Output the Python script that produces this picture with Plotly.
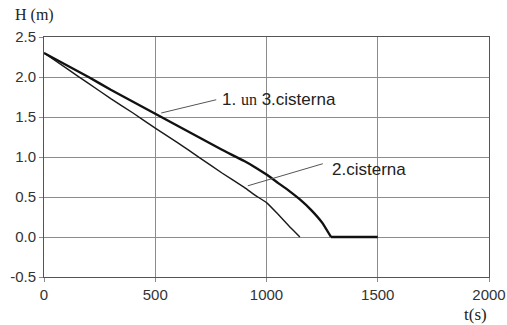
import plotly.graph_objects as go

# Series 1 and 3 (thick line)
t_13 = [0, 100, 200, 300, 400, 500, 600, 700, 800, 900, 950, 1000, 1050, 1100, 1150, 1200, 1250, 1290, 1500]
h_13 = [2.30, 2.15, 2.00, 1.84, 1.69, 1.54, 1.39, 1.24, 1.09, 0.95, 0.87, 0.78, 0.68, 0.58, 0.47, 0.34, 0.18, 0.0, 0.0]

# Series 2 (thin line)
t_2 = [0, 100, 200, 300, 400, 500, 600, 700, 800, 900, 950, 1000, 1050, 1100, 1150]
h_2 = [2.30, 2.11, 1.92, 1.73, 1.55, 1.36, 1.18, 0.99, 0.80, 0.62, 0.52, 0.43, 0.29, 0.14, 0.0]

x_ticks = [0, 500, 1000, 1500, 2000]
y_ticks = [-0.5, 0.0, 0.5, 1.0, 1.5, 2.0, 2.5]

label_13 = '1. <span style="font-family:\'Liberation Serif\', \'Times New Roman\', serif; font-size:16px">un</span> 3.cisterna'
label_2 = "2.cisterna"

fig = go.Figure()
fig.add_trace(go.Scatter(x=t_2, y=h_2, mode="lines",
                         line=dict(color="#1a1a1a", width=1.4, shape="spline", smoothing=0.3),
                         showlegend=False))
# curved (draining) part of series 1/3, then the empty (flat) part
fig.add_trace(go.Scatter(x=t_13[:-1], y=h_13[:-1], mode="lines",
                         line=dict(color="#111111", width=2.4, shape="spline", smoothing=0.4),
                         showlegend=False))
fig.add_trace(go.Scatter(x=t_13[-2:], y=h_13[-2:], mode="lines",
                         line=dict(color="#111111", width=2.4),
                         showlegend=False))

# leader lines
fig.add_shape(type="line", xref="x", yref="y", x0=527, y0=1.55, x1=774, y1=1.716,
              line=dict(color="#555555", width=1))
fig.add_shape(type="line", xref="x", yref="y", x0=916, y0=0.64, x1=1253, y1=0.916,
              line=dict(color="#555555", width=1))

sans = "Liberation Sans, Arial, sans-serif"
serif = "Liberation Serif, Times New Roman, serif"

fig.add_annotation(x=790, y=1.716, xref="x", yref="y", text=label_13, showarrow=False,
                   xanchor="left", yanchor="middle", font=dict(family=sans, size=17, color="#222"))
fig.add_annotation(x=1284, y=0.85, xref="x", yref="y", text=label_2, showarrow=False,
                   xanchor="left", yanchor="middle", font=dict(family=sans, size=17, color="#222"))
fig.add_annotation(x=-0.07, y=1.092, xref="paper", yref="paper", text="H (m)", showarrow=False,
                   xanchor="left", yanchor="middle", font=dict(family=serif, size=16, color="#222"))
fig.add_annotation(x=0.969, y=-0.158, xref="paper", yref="paper", text="t(s)", showarrow=False,
                   xanchor="center", yanchor="middle", font=dict(family=serif, size=17, color="#222"))

axis_common = dict(showgrid=True, gridcolor="#8c8c8c", gridwidth=1,
                   showline=True, linecolor="#8c8c8c", linewidth=1, mirror=True,
                   ticks="outside", ticklen=4, tickcolor="#8c8c8c", automargin=False,
                   tickfont=dict(family=sans, size=15, color="#333"), zeroline=False)

fig.update_xaxes(range=[0, 2000], tickvals=x_ticks, ticktext=[str(v) for v in x_ticks], **axis_common)
fig.update_yaxes(range=[-0.5, 2.5], tickvals=y_ticks, ticktext=[f"{v:.1f}" for v in y_ticks], **axis_common)
fig.update_xaxes(linecolor="#555555")
fig.update_yaxes(linecolor="#555555")

fig.update_layout(width=507, height=325, margin=dict(l=44, r=18, t=37, b=48),
                  plot_bgcolor="white", paper_bgcolor="white")

fig.write_html("out.html")
